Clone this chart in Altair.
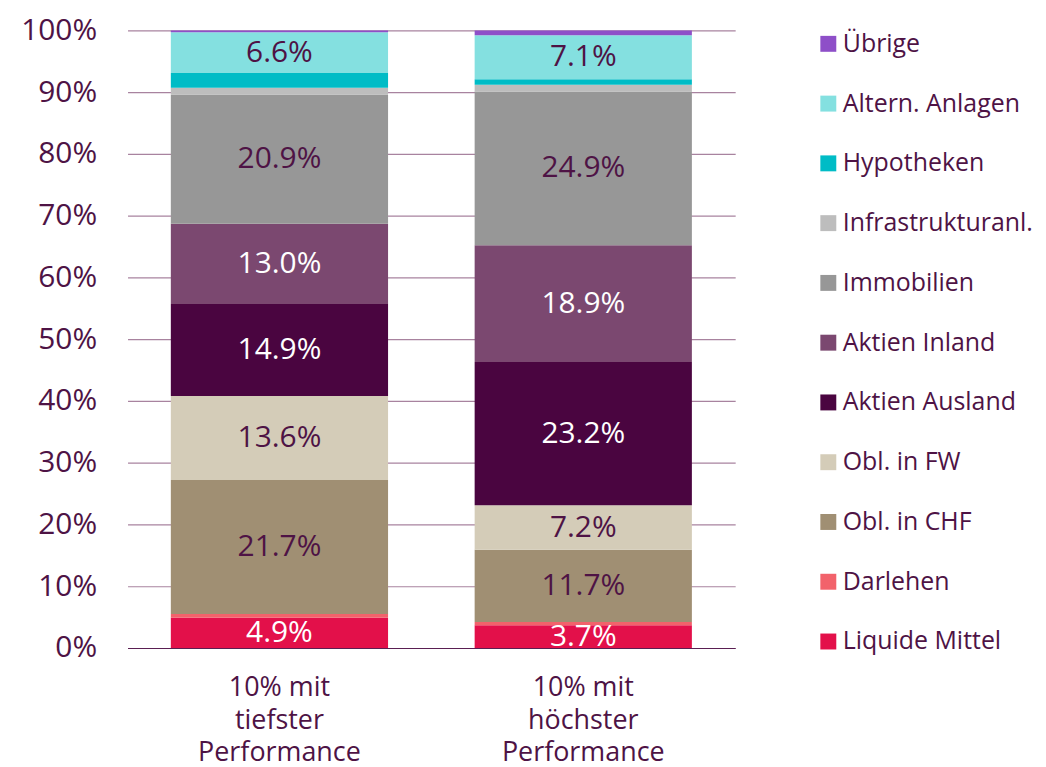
import altair as alt
import pandas as pd

categories = ["10% mit\ntiefster\nPerformance", "10% mit\nhöchster\nPerformance"]
series = ["Liquide Mittel", "Darlehen", "Obl. in CHF", "Obl. in FW", "Aktien Ausland",
          "Aktien Inland", "Immobilien", "Infrastrukturanl.", "Hypotheken",
          "Altern. Anlagen", "Übrige"]
low_perf = [4.9, 0.6, 21.7, 13.6, 14.9, 13.0, 20.9, 1.1, 2.4, 6.6, 0.3]
high_perf = [3.7, 0.5, 11.7, 7.2, 23.2, 18.9, 24.9, 1.1, 0.9, 7.1, 0.8]
colors = ["#e3104a", "#f2626b", "#a08f73", "#d4ccb8", "#4a0540", "#7b4870",
          "#979797", "#bdbdbd", "#00bcc6", "#84e0e0", "#8e4fc8"]
white_label_series = ["Liquide Mittel", "Aktien Ausland", "Aktien Inland"]
y_ticks = [0, 10, 20, 30, 40, 50, 60, 70, 80, 90, 100]

rows = []
for cat, vals in zip(categories, [low_perf, high_perf]):
    for i, (s, v) in enumerate(zip(series, vals)):
        rows.append({"cat": cat, "series": s, "value": v, "order": i})
df = pd.DataFrame(rows)

TXT = "#4e1345"
FONT = "Open Sans"

x_enc = alt.X("cat:N", sort=categories, title=None,
              scale=alt.Scale(paddingInner=0.285, paddingOuter=0.1425),
              axis=alt.Axis(labelExpr="split(datum.label, '\\n')", labelAngle=0,
                            labelFontSize=27, labelColor=TXT, labelFont=FONT,
                            labelLineHeight=32.5, labelPadding=27, ticks=False,
                            domainColor="#5a1f52", domainWidth=1.2, labelBaseline="top"))

base = alt.Chart(df).transform_stack(
    stack="value", groupby=["cat"], as_=["y0", "y1"], sort=[alt.SortField("order")]
).transform_calculate(ymid="(datum.y0 + datum.y1) / 2")

bars = base.mark_bar().encode(
    x=x_enc,
    y=alt.Y("y0:Q", title=None, scale=alt.Scale(domain=[0, 100], nice=False),
            axis=alt.Axis(values=y_ticks, labelExpr="datum.value + '%'",
                          labelFontSize=30, labelColor=TXT, labelFont=FONT,
                          labelPadding=31, ticks=False, domain=False,
                          gridColor="#a8839f", gridWidth=1.2)),
    y2="y1:Q",
    color=alt.Color("series:N", sort=series[::-1],
                    scale=alt.Scale(domain=series[::-1], range=colors[::-1]),
                    legend=alt.Legend(title=None, orient="none", legendX=691, legendY=1,
                                      symbolType="square", symbolSize=256,
                                      symbolStrokeWidth=0, labelFontSize=25,
                                      labelFont=FONT, labelColor=TXT, labelOffset=2,
                                      rowPadding=34.0, labelLimit=300)),
    order=alt.Order("order:Q"),
)

labels = base.transform_filter("datum.value >= 3").transform_calculate(
    lbl="format(datum.value, '.1f') + '%'"
).mark_text(
    fontSize=30, font=FONT, baseline="middle", align="center"
).encode(
    x=alt.X("cat:N", sort=categories),
    y=alt.Y("ymid:Q"),
    text="lbl:N",
    color=alt.condition(
        alt.FieldOneOfPredicate(field="series", oneOf=white_label_series),
        alt.value("white"), alt.value(TXT)),
)

chart = alt.layer(bars, labels).properties(
    width=610, height=620,
    autosize=alt.AutoSizeParams(type="none"),
    padding={"left": 120, "top": 21, "right": 304, "bottom": 117},
).configure_view(stroke=None).configure_axis(grid=True)
chart = chart.configure_axisX(grid=False)

chart.save("out.html", embed_options={"renderer": "svg", "actions": False})
